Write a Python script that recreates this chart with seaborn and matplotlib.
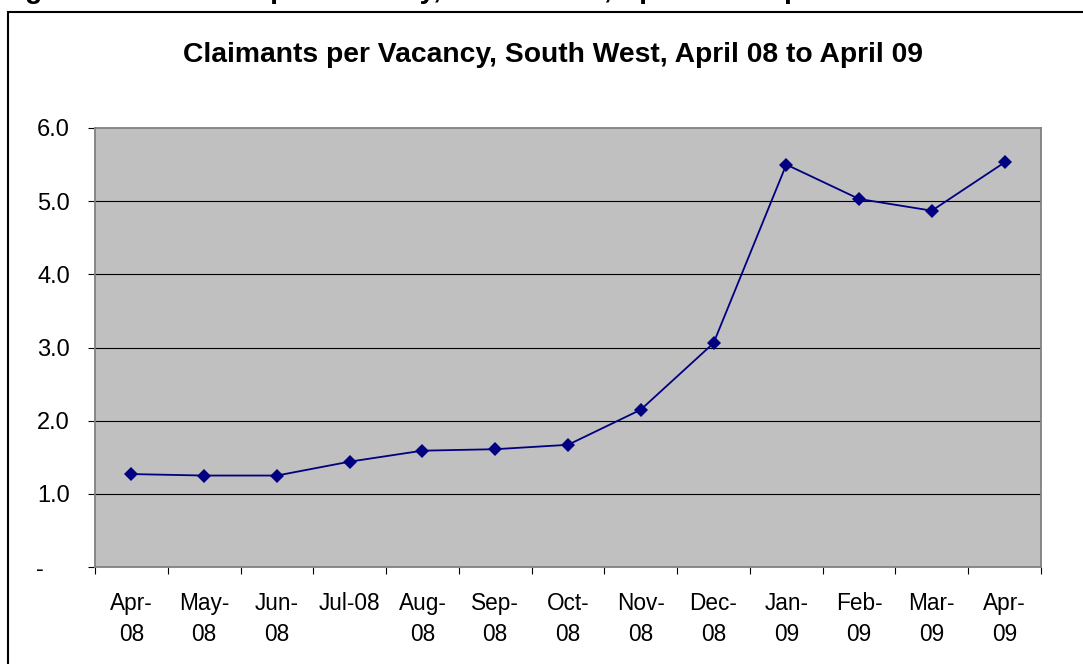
import matplotlib
matplotlib.use('Agg')
import matplotlib.pyplot as plt
import seaborn as sns
import pandas as pd
from matplotlib.patches import Rectangle
from matplotlib.ticker import FixedLocator

months = ['Apr-08', 'May-08', 'Jun-08', 'Jul-08', 'Aug-08', 'Sep-08', 'Oct-08',
          'Nov-08', 'Dec-08', 'Jan-09', 'Feb-09', 'Mar-09', 'Apr-09']
month_labels = ['Apr-\n08', 'May-\n08', 'Jun-\n08', 'Jul-08', 'Aug-\n08', 'Sep-\n08', 'Oct-\n08',
                'Nov-\n08', 'Dec-\n08', 'Jan-\n09', 'Feb-\n09', 'Mar-\n09', 'Apr-\n09']
claimants_per_vacancy = [1.27, 1.25, 1.25, 1.44, 1.59, 1.61, 1.67,
                         2.15, 3.06, 5.50, 5.03, 4.87, 5.53]
y_ticks = [0, 1, 2, 3, 4, 5, 6]
y_labels = ['-    ', '1.0', '2.0', '3.0', '4.0', '5.0', '6.0']

plt.rcParams['font.family'] = ['Liberation Sans', 'DejaVu Sans']

df = pd.DataFrame({'month': months, 'value': claimants_per_vacancy})

fig = plt.figure(figsize=(10.83, 6.64), dpi=100)
ax = fig.add_axes([95 / 1083, 97 / 664, (1041 - 95) / 1083, (567 - 128) / 664])

sns.lineplot(x='month', y='value', data=df, ax=ax, sort=False, color='#000080',
             linewidth=1.3, marker='D', markersize=7, markeredgewidth=0)

ax.set_facecolor('#C0C0C0')
ax.set_xlim(-0.5, len(months) - 0.5)
ax.set_ylim(0, 6)
ax.set_xlabel('')
ax.set_ylabel('')

# gridlines
for v in y_ticks[1:-1]:
    ax.axhline(v, color='black', linewidth=0.8, zorder=1)

for spine in ax.spines.values():
    spine.set_color('#808080')
    spine.set_linewidth(1.3)

ax.set_yticks(y_ticks)
ax.set_yticklabels(y_labels)
ax.tick_params(axis='y', direction='out', length=5, width=0.8, color='black',
               labelsize=17, pad=13)

ax.set_xticks(range(len(months)))
ax.set_xticklabels(month_labels, linespacing=1.45)
ax.xaxis.set_minor_locator(FixedLocator([i - 0.5 for i in range(len(months) + 1)]))
ax.tick_params(axis='x', which='major', length=0, labelsize=16.3, pad=18)
ax.tick_params(axis='x', which='minor', direction='out', length=5, width=0.8, color='black')

fig.text(553 / 1083, 1 - 62 / 664, 'Claimants per Vacancy, South West, April 08 to April 09',
         ha='center', va='baseline', fontsize=20.3, fontweight='bold')

# heading above the chart box, cut off by the top edge
fig.text(0.0, 1 + 2 / 664, 'Figure 5: Claimants per Vacancy, South West, April 08 to April 09',
         ha='left', va='baseline', fontsize=20.3, fontweight='bold')

fig.add_artist(Rectangle((8 / 1083, -0.1), 1.2, 1.1 - 12.5 / 664, transform=fig.transFigure,
                         fill=False, edgecolor='black', linewidth=1.5))

plt.savefig('out.png', dpi=100)
